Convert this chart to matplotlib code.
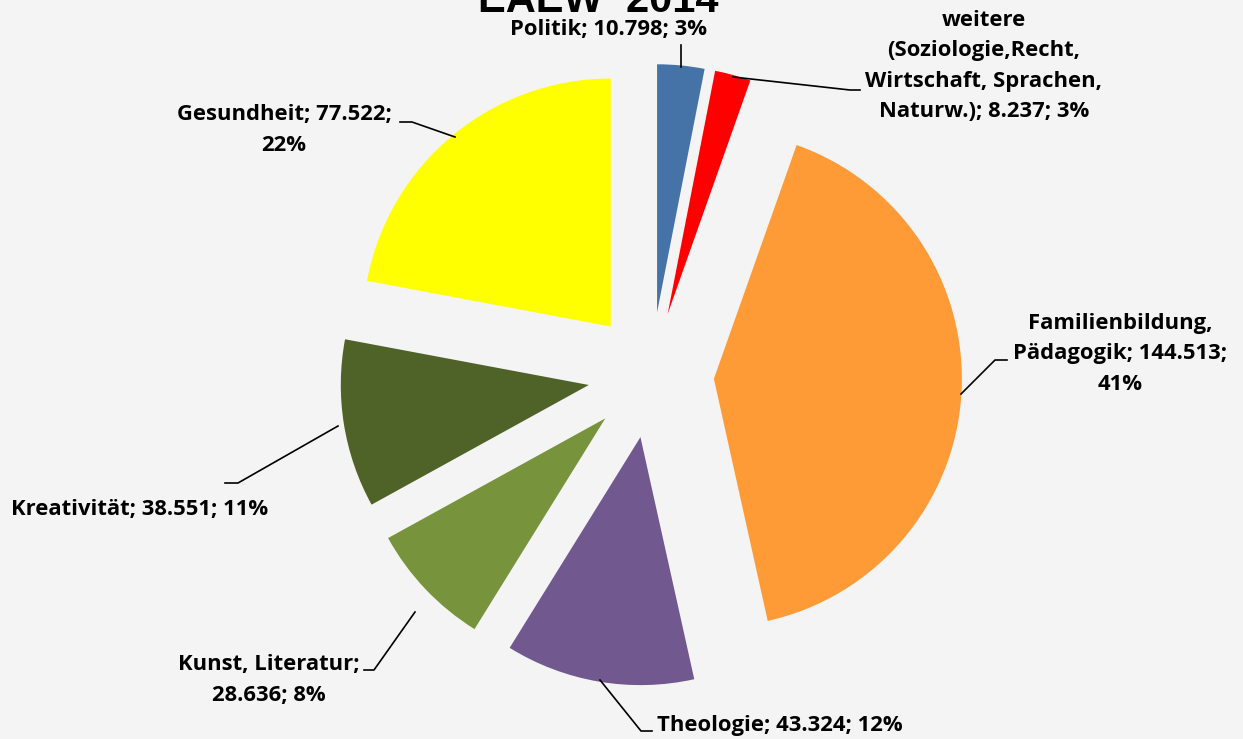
import matplotlib
matplotlib.use("Agg")
from matplotlib import pyplot as plt

# data
categories = ["Politik", "weitere\n(Soziologie,Recht,\nWirtschaft, Sprachen,\nNaturw.)",
              "Familienbildung,\nPädagogik", "Theologie", "Kunst, Literatur",
              "Kreativität", "Gesundheit"]
values = [10.798, 8.237, 144.513, 43.324, 28.636, 38.551, 77.522]
value_labels = ["10.798", "8.237", "144.513", "43.324", "28.636", "38.551", "77.522"]
pct_labels = ["3%", "3%", "41%", "12%", "8%", "11%", "22%"]  # as printed in the chart
colors = ["#4572A7", "#FF0000", "#FF9B37", "#71588F", "#77933C", "#4F6228", "#FFFF00"]

bg = "#F4F4F4"
plt.rcParams['font.family'] = ['Open Sans', 'DejaVu Sans']

fig = plt.figure(figsize=(12.43, 7.39), dpi=100, facecolor=bg)
ax = fig.add_axes([0, 0, 1, 1])
ax.set_facecolor(bg)
ax.axis('off')

H = 739  # work in pixel-like units
ax.pie(values, colors=colors, startangle=90, counterclock=False,
       radius=248, center=(651, H - 375), explode=[63] * len(values),
       wedgeprops=dict(linewidth=0), frame=False)
ax.set_xlim(0, 1243)
ax.set_ylim(0, H)
ax.set_aspect('equal')

# label texts (line breaks as in reference)
texts = [
    "Politik; {}; {}".format(value_labels[0], pct_labels[0]),
    "weitere\n(Soziologie,Recht,\nWirtschaft, Sprachen,\nNaturw.); {}; {}".format(value_labels[1], pct_labels[1]),
    "Familienbildung,\nPädagogik; {};\n{}".format(value_labels[2], pct_labels[2]),
    "Theologie; {}; {}".format(value_labels[3], pct_labels[3]),
    "Kunst, Literatur;\n{}; {}".format(value_labels[4], pct_labels[4]),
    "Kreativität; {}; {}".format(value_labels[5], pct_labels[5]),
    "Gesundheit; {};\n{}".format(value_labels[6], pct_labels[6]),
]
# label anchor positions (pixel, y down) and alignment
label_pos = [(609, 30, 'center'), (984, 66, 'center'), (1120, 354, 'center'),
             (657, 725, 'left'), (269, 680, 'center'), (140, 510, 'center'),
             (284, 130, 'center')]
# leader lines (pixel, y down)
leaders = [
    [(681, 67), (681, 45)],
    [(733, 77), (850, 90), (860, 90)],
    [(961, 394), (995, 360), (1007, 360)],
    [(600, 680), (641, 731), (652, 731)],
    [(415, 612), (374, 670), (364, 670)],
    [(338, 426), (238, 483), (225, 483)],
    [(455, 137), (412, 122), (400, 122)],
]

for t, (x, y, ha) in zip(texts, label_pos):
    ax.text(x, H - y, t, ha=ha, va='center', fontsize=15.8, fontweight='bold',
            linespacing=1.6, color='black')

for pts in leaders:
    ax.plot([p[0] for p in pts], [H - p[1] for p in pts], color='black', lw=1.2)

ax.text(598, H - 12, "EAEW  2014", ha='center', va='baseline', fontsize=30,
        fontweight='bold', family=['Liberation Sans', 'DejaVu Sans'])

fig.savefig('out.png', dpi=100, facecolor=bg)
